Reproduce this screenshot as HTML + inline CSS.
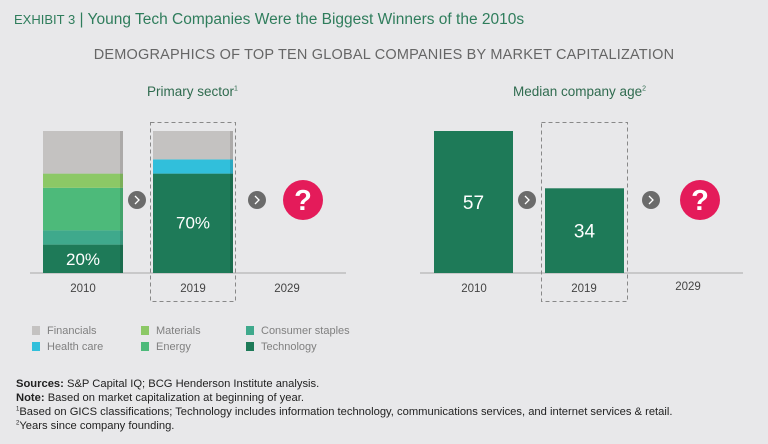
<!DOCTYPE html>
<html><head><meta charset="utf-8"><style>
body{margin:0;width:768px;height:444px;background:#e8e8ea;font-family:"Liberation Sans",sans-serif;overflow:hidden;position:relative}
.t{position:absolute;white-space:nowrap}
.leg{position:absolute;font-size:11px;color:#808080}
.leg i{display:inline-block;width:8px;height:9px;margin-right:7px;vertical-align:-1px}
.fn{position:absolute;left:16px;font-size:11.2px;color:#222;white-space:nowrap}
</style></head><body>
<div class="t" style="left:14px;top:11px;font-size:15.5px;color:#2f7d5c"><span style="font-size:13px">EXHIBIT 3</span> | Young Tech Companies Were the Biggest Winners of the 2010s</div>
<div class="t" style="left:0;width:768px;text-align:center;top:47px;font-size:14.5px;color:#666;letter-spacing:0.2px">DEMOGRAPHICS OF TOP TEN GLOBAL COMPANIES BY MARKET CAPITALIZATION</div>
<div class="t" style="left:147px;top:84px;font-size:13.5px;color:#2f6b4f">Primary sector<sup style="font-size:7px">1</sup></div>
<div class="t" style="left:513px;top:84px;font-size:13.5px;color:#2f6b4f">Median company age<sup style="font-size:7px">2</sup></div>
<svg id="c" width="768" height="444" style="position:absolute;left:0;top:0"></svg>
<div class="leg" style="left:32px;top:325px"><i style="background:#c4c2c1"></i>Financials</div>
<div class="leg" style="left:32px;top:341px"><i style="background:#31bfdb"></i>Health care</div>
<div class="leg" style="left:141px;top:325px"><i style="background:#8cc866"></i>Materials</div>
<div class="leg" style="left:141px;top:341px"><i style="background:#4dba7a"></i>Energy</div>
<div class="leg" style="left:246px;top:325px"><i style="background:#3fa98c"></i>Consumer staples</div>
<div class="leg" style="left:246px;top:341px"><i style="background:#1e7a58"></i>Technology</div>
<div class="fn" style="top:378px"><b>Sources:</b> S&amp;P Capital IQ; BCG Henderson Institute analysis.</div>
<div class="fn" style="top:392px"><b>Note:</b> Based on market capitalization at beginning of year.</div>
<div class="fn" style="top:406px"><sup style="font-size:6px">1</sup>Based on GICS classifications; Technology includes information technology, communications services, and internet services &amp; retail.</div>
<div class="fn" style="top:420px"><sup style="font-size:6px">2</sup>Years since company founding.</div>
<script>
const sectorNames=["Technology","Consumer staples","Energy","Materials","Health care","Financials"];
const sectorColors=["#1e7a58","#3fa98c","#4dba7a","#8cc866","#31bfdb","#c4c2c1"];
const sector2010=[20,10,30,10,0,30];
const sector2019=[70,0,0,0,10,20];
const sectorYears=["2010","2019","2029"];
const ageYears=["2010","2019","2029"];
const ageValues=[57,34];
const ageMax=57;
const svg=document.getElementById('c');
const NS="http://www.w3.org/2000/svg";
function mk(t,a,p){const e=document.createElementNS(NS,t);for(const k in a)e.setAttribute(k,a[k]);(p||svg).appendChild(e);return e;}
const base=273,H=142;
const yS=v=>v/100*H;
const yA=v=>v/ageMax*H;
mk('line',{x1:30,x2:346,y1:base,y2:base,stroke:'#a8a8a8','stroke-width':1});
const lx=[43,153];
[sector2010,sector2019].forEach((arr,i)=>{let y=base;arr.forEach((v,j)=>{if(!v)return;const h=yS(v);y-=h;
const r=mk('rect',{x:lx[i],y:y,width:80,height:h,fill:sectorColors[j]});

});
const tot=arr.reduce((a,b)=>a+b,0);
mk('rect',{x:lx[i]+77,y:base-yS(tot),width:3,height:yS(tot),fill:'#000',opacity:0.12});});
const t1=mk('text',{x:83,y:base-8,'text-anchor':'middle','font-size':17,fill:'#fff'});t1.textContent=sector2010[0]+'%';
const t2=mk('text',{x:193,y:base-yS(sector2019[0])/2+5,'text-anchor':'middle','font-size':17,fill:'#fff'});t2.textContent=sector2019[0]+'%';
mk('rect',{x:150.5,y:122.5,width:85,height:179,fill:'none',stroke:'#888','stroke-dasharray':'4,3'});
[83,193,287].forEach((x,i)=>{const t=mk('text',{x:x,y:292,'text-anchor':'middle','font-size':11.5,fill:'#444'});t.textContent=sectorYears[i];});
mk('line',{x1:420,x2:743,y1:base,y2:base,stroke:'#a8a8a8','stroke-width':1});
const rx=[434,545];
ageValues.forEach((v,i)=>{const h=yA(v);const r=mk('rect',{x:rx[i],y:base-h,width:79,height:h,fill:'#1e7a58'});


const t=mk('text',{x:rx[i]+39.5,y:base-h/2+7,'text-anchor':'middle','font-size':19,fill:'#fff'});t.textContent=v;});
mk('rect',{x:541.5,y:122.5,width:86,height:179,fill:'none',stroke:'#888','stroke-dasharray':'4,3'});
[474,584,688].forEach((x,i)=>{const t=mk('text',{x:x,y:i==2?290:292,'text-anchor':'middle','font-size':11.5,fill:'#444'});t.textContent=ageYears[i];});
[[137,200],[257,200],[527,200],[651,200]].forEach(([x,y])=>{const g=mk('g',{});
mk('circle',{cx:x,cy:y,r:9,fill:'#6b6b6b'},g);mk('path',{d:`M${x-2} ${y-4}L${x+2} ${y}L${x-2} ${y+4}`,stroke:'#fff',fill:'none','stroke-width':1.3},g);});
[[303,200],[700,200]].forEach(([x,y])=>{const g=mk('g',{});
mk('circle',{cx:x,cy:y,r:20,fill:'#e41b5a'},g);const t=mk('text',{x:x,y:y+10,'text-anchor':'middle','font-size':29,'font-weight':'bold',fill:'#fff'},g);t.textContent='?';});
</script>
</body></html>
